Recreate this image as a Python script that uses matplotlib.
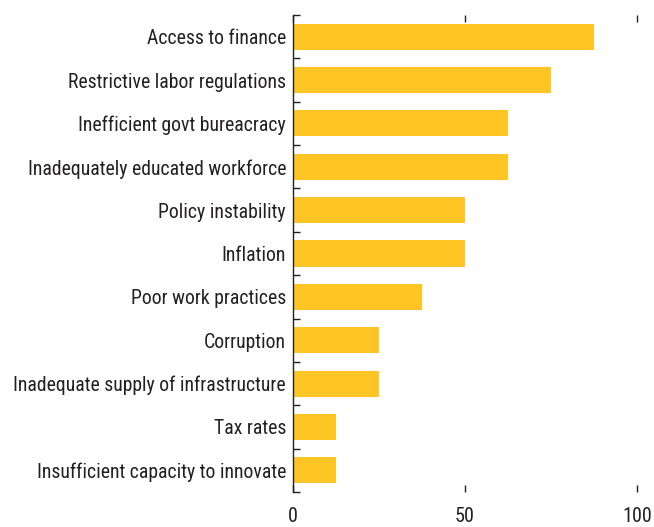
import numpy as np
import matplotlib.pyplot as plt
from matplotlib import font_manager

# Obstacles to doing business, share of respondents (percent)
categories = [
    "Access to finance",
    "Restrictive labor regulations",
    "Inefficient govt bureacracy",
    "Inadequately educated workforce",
    "Policy instability",
    "Inflation",
    "Poor work practices",
    "Corruption",
    "Inadequate supply of infrastructure",
    "Tax rates",
    "Insufficient capacity to innovate",
]
values = [87.5, 75, 62.5, 62.5, 50, 50, 37.5, 25, 25, 12.5, 12.5]
xticks = [0, 50, 100]

# prefer a narrow face when one is installed
fonts = font_manager.fontManager.ttflist
names = {f.name for f in fonts}
condensed = [f for f in fonts if f.stretch in ("condensed", "semi-condensed")
             or "Narrow" in f.name or "Condensed" in f.name]
font_kw = {}
label_size = 12.8
if "Liberation Sans Narrow" in names:
    font_kw = {"family": "Liberation Sans Narrow"}
    label_size = 14.8
elif "Roboto Condensed" in names:
    font_kw = {"family": "Roboto Condensed"}
    label_size = 14.2
elif condensed:
    f = condensed[0]
    font_kw = {"family": f.name, "stretch": f.stretch}
    label_size = 14.2
else:
    font_kw = {"family": "Liberation Sans"}
plt.rcParams["font.family"] = font_kw["family"]
if "stretch" in font_kw:
    plt.rcParams["font.stretch"] = font_kw["stretch"]

bar_color = "#FEC524"
text_color = "#231F20"

fig = plt.figure(figsize=(6.54, 5.27), dpi=100)
ax = fig.add_axes([0.448, 1 - 492 / 527, 0.526, 477 / 527])

y = np.arange(len(categories))
ax.barh(y, values, height=0.6, color=bar_color)

ax.set_xlim(0, 100)
ax.set_ylim(len(categories) - 0.5, -0.5)
ax.set_xticks(xticks)

# category labels centred on bars, boundary ticks on the spine
ax.set_yticks(y)
ax.set_yticklabels(categories)
ax.set_yticks(np.arange(len(categories) + 1) - 0.5, minor=True)
ax.tick_params(axis="y", which="major", length=0, pad=5, labelsize=label_size,
               labelcolor=text_color)
ax.tick_params(axis="y", which="minor", direction="in", length=5, width=1,
               color=text_color)
ax.tick_params(axis="x", which="major", direction="in", top=True, bottom=True,
               length=5, width=1, color=text_color, pad=11, labelsize=14.5,
               labelcolor=text_color)

for side in ("top", "right", "bottom"):
    ax.spines[side].set_visible(False)
ax.spines["left"].set_color(text_color)
ax.spines["left"].set_linewidth(1)

fig.savefig("out.png", dpi=100)
